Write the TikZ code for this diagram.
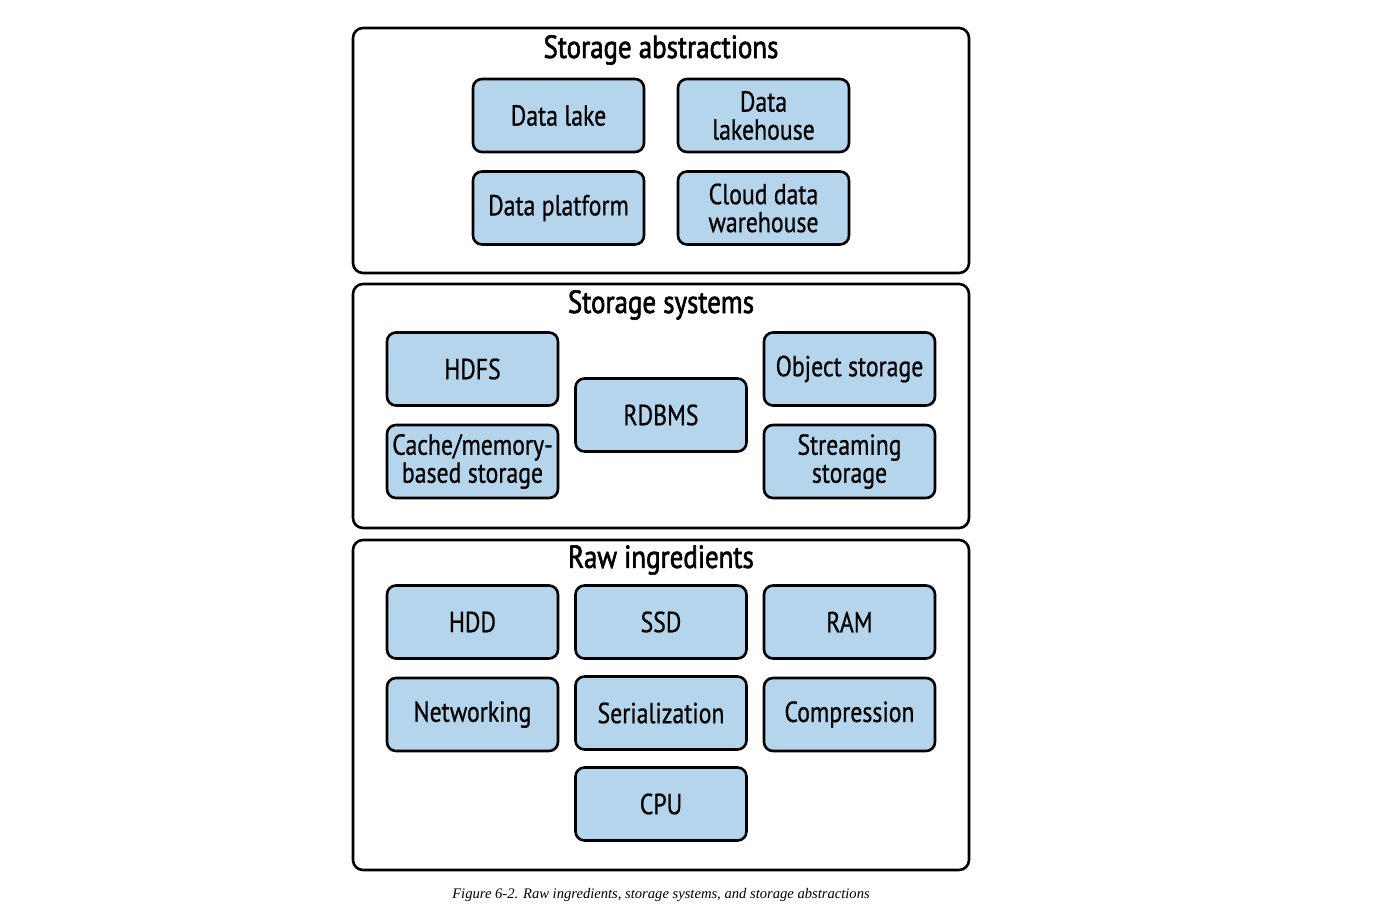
\documentclass[tikz,border=0pt]{standalone}
\usepackage{fontspec}
\setmainfont{PT Sans}[FakeStretch=0.82]
\newfontfamily\itemfont{PT Sans}[FakeStretch=0.82,FakeBold=0.7]
\newfontfamily\ttlfont{PT Sans}[FakeStretch=0.84,FakeBold=1.8]
\newfontfamily\capfont{Liberation Serif}
\definecolor{boxblue}{HTML}{B4D5EB}
\begin{document}
\begin{tikzpicture}[x=1pt,y=-1pt,
  outer/.style={draw=black,line width=2.6pt,rounded corners=10pt,fill=white},
  item/.style={draw=black,line width=2.6pt,rounded corners=9pt,fill=boxblue,
    minimum width=171pt,minimum height=73pt,inner sep=0pt,align=center,
    font=\itemfont\fontsize{29}{28}\selectfont},
  ttl/.style={font=\ttlfont\fontsize{32}{32}\selectfont,inner sep=0pt},
  captxt/.style={font=\capfont\itshape\fontsize{14.6}{14.6}\selectfont,inner sep=0pt}]
\useasboundingbox (0,0) rectangle (1400,909);
\fill[white] (0,0) rectangle (1400,909);
% outer boxes
\draw[outer] (353,28) rectangle (969,273);
\draw[outer] (353,284) rectangle (969,528);
\draw[outer] (353,540) rectangle (969,870);
\node[ttl] (t1) at (661,50) {Storage abstractions};
\node[ttl] (t2) at (661,305) {Storage systems};
\node[ttl] (t3) at (661,560) {Raw ingredients};
% storage abstractions
\node[item] (lake) at (558.5,115.5) {Data lake};
\node[item] (lakehouse) at (763.5,115.5) {Data\\lakehouse};
\node[item] (platform) at (558.5,208) {Data platform};
\node[item] (cdw) at (763.5,208) {Cloud data\\warehouse};
% storage systems
\node[item] (hdfs) at (472.5,369) {HDFS};
\node[item] (rdbms) at (661,415) {RDBMS};
\node[item] (obj) at (849.5,369) {Object storage};
\node[item] (cache) at (472.5,461.5) {Cache/memory-\\based storage};
\node[item] (stream) at (849.5,461.5) {Streaming\\storage};
% raw ingredients
\node[item] (hdd) at (472.5,622) {HDD};
\node[item] (ssd) at (661,622) {SSD};
\node[item] (ram) at (849.5,622) {RAM};
\node[item] (net) at (472.5,714.5) {Networking};
\node[item] (ser) at (661,713) {Serialization};
\node[item] (comp) at (849.5,714.5) {Compression};
\node[item] (cpu) at (661,804) {CPU};
\node[captxt] (caption) at (661,895) {Figure 6-2. Raw ingredients, storage systems, and storage abstractions};
\end{tikzpicture}
\end{document}
